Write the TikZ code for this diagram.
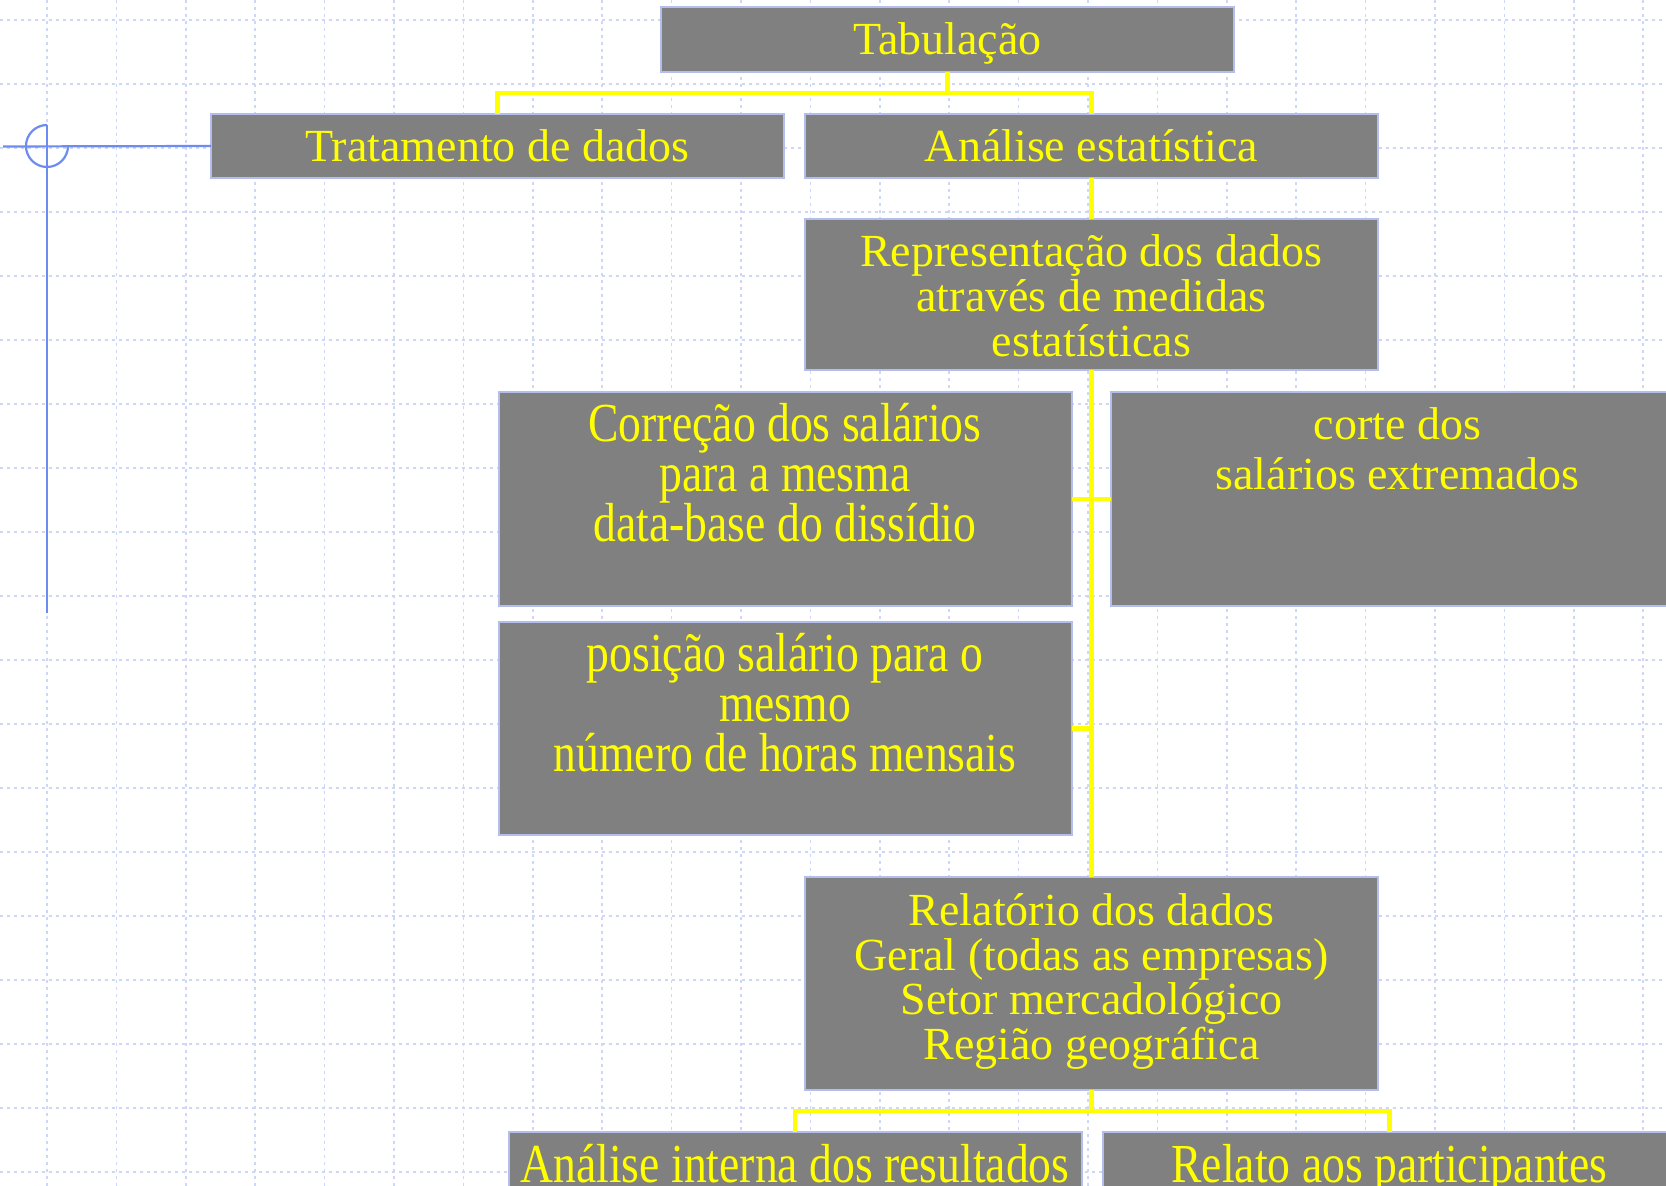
\documentclass[tikz,border=0pt]{standalone}
\usepackage{fontspec}
\setmainfont{Liberation Serif}
\newfontfamily\condserif[FakeStretch=0.83]{Liberation Serif}
\usetikzlibrary{calc}

\definecolor{gridblue}{RGB}{205,216,248}
\definecolor{edgeblue}{RGB}{180,190,236}
\definecolor{markblue}{RGB}{110,140,240}
\definecolor{boxgray}{RGB}{128,128,128}
\definecolor{linkyellow}{RGB}{255,255,0}

\lineskiplimit=-\maxdimen

% box contents: width, height, font setup, text (top aligned)
\newcommand\boxtxt[4]{\begin{minipage}[c][#2][t]{#1}\centering#3#4\end{minipage}}
\newcommand\normfont{\fontsize{23pt}{22.5pt}\selectfont\rule{0pt}{24pt}}
\newcommand\widefont{\fontsize{23pt}{25pt}\selectfont\rule{0pt}{24pt}}
\newcommand\tallfont{\condserif\fontsize{27.5pt}{25pt}\selectfont\rule{0pt}{25pt}}

\begin{document}
\begin{tikzpicture}[x=0.5pt,y=-0.5pt,
  gridline/.style={draw=gridblue,line width=0.75pt,dash pattern=on 1.5pt off 2pt},
  box/.style={draw=edgeblue,line width=1pt,fill=boxgray,text=linkyellow,
    inner sep=0pt,outer sep=0pt,anchor=north},
  link/.style={draw=linkyellow,line width=2.25pt},
  marker/.style={draw=markblue,line width=1.1pt}]

\useasboundingbox (0,0) rectangle (1666,1186);
\clip (0,0) rectangle (1666,1186);
\fill[white] (0,0) rectangle (1666,1186);

% dashed background grid
\foreach \i in {0,...,23}
  \draw[gridline] ({47+69.4*\i},0) -- ({47+69.4*\i},1186);
\foreach \j in {0,...,18}
  \draw[gridline] (0,{20+64*\j}) -- (1666,{20+64*\j});

% boxes
\node[box] (tab) at (947.5,7)
  {\boxtxt{286.5pt}{32.5pt}{\normfont}{Tabulação}};
\node[box] (trat) at (497.5,114)
  {\boxtxt{286.5pt}{32pt}{\normfont}{Tratamento de dados}};
\node[box] (anal) at (1091.5,114)
  {\boxtxt{286.5pt}{32pt}{\normfont}{Análise estatística}};
\node[box] (repr) at (1091.5,219)
  {\boxtxt{286.5pt}{75.5pt}{\normfont}{Representação dos dados\\através de medidas\\estatísticas}};
\node[box] (corr) at (785,392)
  {\boxtxt{286.5pt}{107pt}{\tallfont}{Correção dos salários\\para a mesma\\data-base do dissídio}};
\node[box] (corte) at (1397.5,392)
  {\boxtxt{286.5pt}{107pt}{\widefont}{corte dos\\salários extremados}};
\node[box] (pos) at (785,622)
  {\boxtxt{286.5pt}{106.5pt}{\tallfont}{posição salário para o\\mesmo\\número de horas mensais}};
\node[box] (rel) at (1091.5,877)
  {\boxtxt{286.5pt}{106.5pt}{\normfont}{Relatório dos dados\\Geral (todas as empresas)\\Setor mercadológico\\Região geográfica}};
\node[box] (aint) at (795,1132)
  {\boxtxt{286.5pt}{106.5pt}{\tallfont}{Análise interna dos resultados}};
\node[box] (relato) at (1389.5,1132)
  {\boxtxt{286.5pt}{106.5pt}{\tallfont}{Relato aos participantes}};

% connectors
\coordinate (tj) at ($(tab.south)+(0,21)$);
\draw[link] (tab.south) -- (tj);
\draw[link] (trat.north) |- (tj) -| (anal.north);
\draw[link] (anal.south) -- (repr.north);
\draw[link] (repr.south) -- (rel.north);
\draw[link] (corr.east) -- (corte.west);
\draw[link] (pos.east) -- (pos.east -| repr.south);
\coordinate (rj) at ($(rel.south)+(0,21)$);
\draw[link] (rel.south) -- (rj);
\draw[link] (aint.north) |- (rj) -| (relato.north);

% margin marker
\coordinate (hend) at (3,146.5);
\coordinate (vtop) at (47,125);
\coordinate (vbot) at (47,613);
\draw[marker] (trat.west) -- (hend);
\draw[marker] (vtop) -- (vbot);
\draw[marker] (vtop) arc[start angle=270,end angle=0,radius=21];
\end{tikzpicture}
\end{document}
